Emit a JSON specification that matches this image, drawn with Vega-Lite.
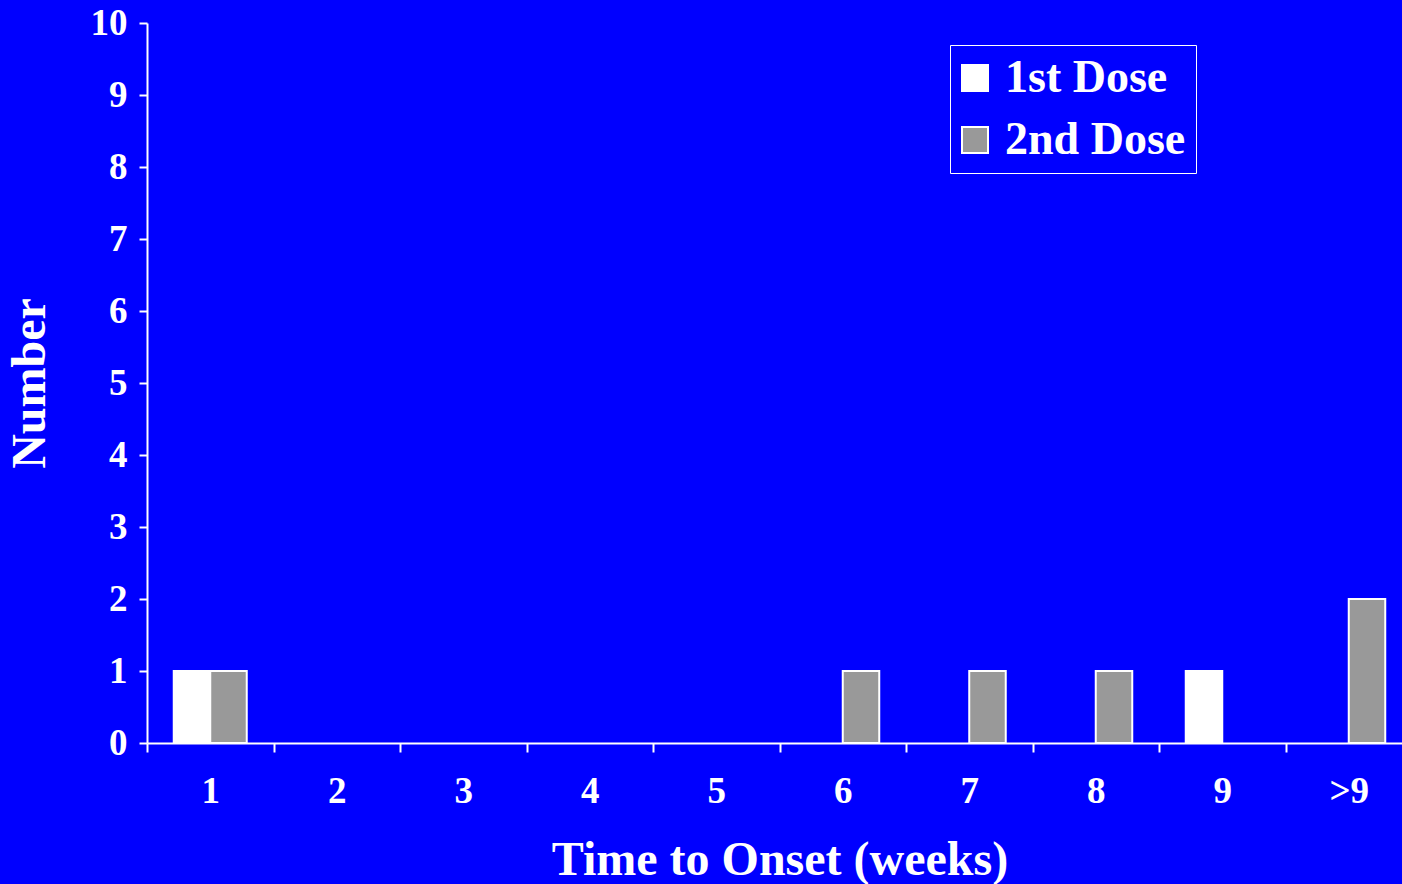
{
  "$schema": "https://vega.github.io/schema/vega-lite/v6.json",
  "autosize": {"type": "none"},
  "padding": {"left": 147, "top": 23, "right": -10, "bottom": 141},
  "width": 1265,
  "height": 720,
  "background": "#0000ff",
  "config": {
    "view": {"stroke": null},
    "font": "Liberation Serif",
    "axis": {
      "domainColor": "#ffffff",
      "domainWidth": 2,
      "tickColor": "#ffffff",
      "tickWidth": 2,
      "labelColor": "#ffffff",
      "labelFont": "Liberation Serif",
      "labelFontWeight": "bold",
      "labelFontSize": 37,
      "titleColor": "#ffffff",
      "titleFont": "Liberation Serif",
      "titleFontWeight": "bold",
      "titleFontSize": 48,
      "grid": false
    },
    "legend": {
      "labelColor": "#ffffff",
      "labelFont": "Liberation Serif",
      "labelFontWeight": "bold",
      "labelFontSize": 46,
      "labelLimit": 400
    }
  },
  "data": {
    "values": [
      {"week": "1", "dose": "1st Dose", "count": 1},
      {"week": "1", "dose": "2nd Dose", "count": 1},
      {"week": "6", "dose": "2nd Dose", "count": 1},
      {"week": "7", "dose": "2nd Dose", "count": 1},
      {"week": "8", "dose": "2nd Dose", "count": 1},
      {"week": "9", "dose": "1st Dose", "count": 1},
      {"week": ">9", "dose": "2nd Dose", "count": 2}
    ]
  },
  "mark": {"type": "bar", "stroke": "#ffffff", "strokeWidth": 2},
  "encoding": {
    "x": {
      "field": "week",
      "type": "nominal",
      "scale": {
        "domain": ["1", "2", "3", "4", "5", "6", "7", "8", "9", ">9"],
        "paddingInner": 0,
        "paddingOuter": 0
      },
      "axis": {
        "title": "Time to Onset (weeks)",
        "labelAngle": 0,
        "tickBand": "extent",
        "tickSize": 9,
        "labelPadding": 21,
        "titlePadding": 27
      }
    },
    "xOffset": {
      "field": "dose",
      "type": "nominal",
      "scale": {
        "domain": ["1st Dose", "2nd Dose"],
        "paddingInner": 0,
        "paddingOuter": 0.733
      }
    },
    "y": {
      "field": "count",
      "type": "quantitative",
      "scale": {"domain": [0, 10], "nice": false},
      "axis": {
        "title": "Number",
        "values": [0, 1, 2, 3, 4, 5, 6, 7, 8, 9, 10],
        "tickSize": 8,
        "labelPadding": 12,
        "titlePadding": 36
      }
    },
    "color": {
      "field": "dose",
      "type": "nominal",
      "scale": {
        "domain": ["1st Dose", "2nd Dose"],
        "range": ["#ffffff", "#999999"]
      },
      "legend": {
        "title": null,
        "orient": "none",
        "legendX": 803,
        "legendY": 22,
        "symbolType": "square",
        "symbolSize": 676,
        "symbolStrokeColor": "#ffffff",
        "symbolStrokeWidth": 2,
        "symbolOpacity": 1,
        "symbolOffset": -8,
        "labelOffset": 7,
        "rowPadding": 16,
        "padding": 10,
        "strokeColor": "#ffffff"
      }
    }
  }
}
